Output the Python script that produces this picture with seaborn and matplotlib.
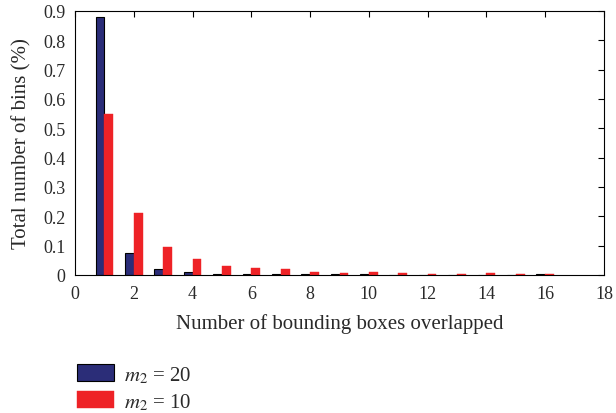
import numpy as np
import pandas as pd
import matplotlib
matplotlib.use("Agg")
import matplotlib.pyplot as plt
import seaborn as sns
from matplotlib.patches import Patch

overlap = list(range(1, 17))
m2_20 = [0.88, 0.075, 0.02, 0.011, 0.005, 0.003, 0.004, 0.002, 0.002, 0.002, 0.001, 0.001, 0.001, 0.001, 0.001, 0.002]
m2_10 = [0.55, 0.213, 0.095, 0.055, 0.030, 0.023, 0.020, 0.009, 0.007, 0.010, 0.008, 0.004, 0.004, 0.007, 0.004, 0.005]
series_labels = [r"$m_2$ = 20", r"$m_2$ = 10"]
colors = ["#2b2d78", "#ee2226"]

df = pd.DataFrame({
    "x": overlap * 2,
    "y": m2_20 + m2_10,
    "s": [series_labels[0]] * len(overlap) + [series_labels[1]] * len(overlap),
})

sns.set_style("white")
plt.rcParams["font.family"] = ["Liberation Serif", "DejaVu Serif"]
plt.rcParams["mathtext.fontset"] = "stix"
txt = "#2a2a2a"

fig = plt.figure(figsize=(6.16, 4.14), dpi=100)
ax = fig.add_axes([75/616, 1-276/414, 529/616, 264/414])

sns.barplot(data=df, x="x", y="y", hue="s", native_scale=True, palette=colors,
            width=0.6, ax=ax, legend=False, errorbar=None, saturation=1)
for i, p in enumerate(ax.patches):
    if i < len(overlap):
        p.set_edgecolor("black"); p.set_linewidth(0.8)
    else:
        p.set_edgecolor(colors[1]); p.set_linewidth(0.3)

ax.set_xlim(0, 18)
ax.set_ylim(0, 0.9)
ax.set_xticks(range(0, 19, 2))
ax.set_yticks(np.arange(0, 0.91, 0.1))
ax.set_yticklabels(["0", "0.1", "0.2", "0.3", "0.4", "0.5", "0.6", "0.7", "0.8", "0.9"])
ax.tick_params(direction="in", top=True, right=True, length=4, width=0.8, labelsize=13,
               color="black", labelcolor=txt, pad=7)
for s in ax.spines.values():
    s.set_color("black"); s.set_linewidth(0.8); s.set_visible(True)
ax.set_xlabel("Number of bounding boxes overlapped", fontsize=15, labelpad=8, color=txt)
ax.set_ylabel("Total number of bins (%)", fontsize=15, labelpad=8, color=txt)

handles = [Patch(facecolor=colors[0], edgecolor="black", linewidth=0.8),
           Patch(facecolor=colors[1], edgecolor=colors[1], linewidth=0.3)]
leg = fig.legend(handles, series_labels, loc="upper left", bbox_to_anchor=(73/616, 1-361/414),
           frameon=False, fontsize=15, handlelength=1.75, handleheight=0.85, labelspacing=0.3,
           handletextpad=0.5, borderpad=0.2, borderaxespad=0)
for t in leg.get_texts():
    t.set_color(txt)

fig.savefig("out.png", dpi=100)
